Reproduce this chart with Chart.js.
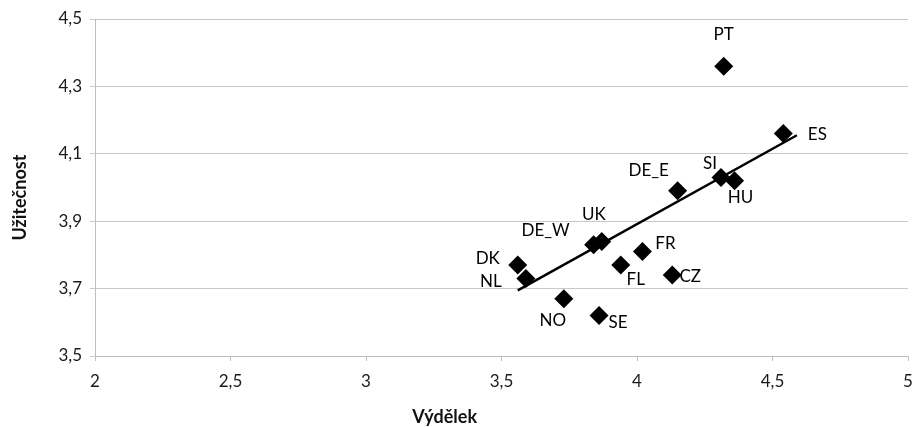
<!DOCTYPE html>
<html>
<head>
<meta charset="utf-8">
<script src="https://cdn.jsdelivr.net/npm/chart.js@4/dist/chart.umd.min.js"></script>
<style>
html,body{margin:0;padding:0;background:#fff;}
#wrap{width:913px;height:427px;}
</style>
</head>
<body>
<div id="wrap"><canvas id="c" width="913" height="427"></canvas></div>
<script>
// Data
const countries = ['PT','ES','SI','HU','DE_E','UK','DE_W','DK','NL','FR','FL','CZ','NO','SE'];
const earnings  = [4.32, 4.54, 4.31, 4.36, 4.15, 3.87, 3.84, 3.56, 3.59, 4.02, 3.94, 4.13, 3.73, 3.86];
const utility   = [4.36, 4.16, 4.03, 4.02, 3.99, 3.84, 3.83, 3.77, 3.73, 3.81, 3.77, 3.74, 3.67, 3.62];
const trendX    = [3.56, 4.59];
const trendY    = [3.695, 4.155];
const xTicks    = [2, 2.5, 3, 3.5, 4, 4.5, 5];
const yTicks    = [3.5, 3.7, 3.9, 4.1, 4.3, 4.5];
const xTitle = 'Výdělek';
const yTitle = 'Užitečnost';

// label placement (style) relative to each marker, in px
const labelOffsets = {
  PT:[0,-32], ES:[34,1], SI:[-11,-14], HU:[6,17], DE_E:[-29,-20], UK:[-8,-27],
  DE_W:[-48,-14], DK:[-30,-6], NL:[-35,3], FR:[23,-8], FL:[15,15], CZ:[18,1],
  NO:[-11,22], SE:[19,7]
};
// axis title placement (style)
const titleStyle = {
  font: 'bold 18px Lato, "Open Sans", sans-serif',
  xTitleFrac: 0.43,
  xTitleY: 417,
  yTitleX: 20,
  yTitleFrac: 0.53
};

const FONT = 'Lato, "Open Sans", sans-serif';
const fmt = v => String(v).replace('.', ',');

const labelPlugin = {
  id: 'pointLabels',
  afterDatasetsDraw(chart) {
    const meta = chart.getDatasetMeta(0);
    const ctx = chart.ctx;
    ctx.save();
    ctx.font = '17px ' + FONT;
    ctx.fillStyle = '#000';
    ctx.textAlign = 'center';
    ctx.textBaseline = 'middle';
    meta.data.forEach((el, i) => {
      const name = countries[i];
      const off = labelOffsets[name] || [0, -20];
      ctx.fillText(name, el.x + off[0], el.y + off[1]);
    });
    ctx.restore();
  },
  afterDraw(chart) {
    const ctx = chart.ctx;
    const a = chart.chartArea;
    ctx.save();
    ctx.font = titleStyle.font;
    ctx.fillStyle = '#111';
    ctx.textAlign = 'center';
    ctx.textBaseline = 'middle';
    ctx.fillText(xTitle, a.left + (a.right - a.left) * titleStyle.xTitleFrac, titleStyle.xTitleY);
    ctx.translate(titleStyle.yTitleX, a.top + (a.bottom - a.top) * titleStyle.yTitleFrac);
    ctx.rotate(-Math.PI / 2);
    ctx.fillText(yTitle, 0, 0);
    ctx.restore();
  }
};

new Chart(document.getElementById('c'), {
  type: 'scatter',
  data: {
    datasets: [
      {
        label: 'data',
        data: earnings.map((x, i) => ({x: x, y: utility[i]})),
        pointStyle: 'rectRot',
        pointRadius: 9.5,
        pointHoverRadius: 9.5,
        backgroundColor: '#000',
        borderColor: '#000',
        borderWidth: 0,
        order: 2
      },
      {
        label: 'trend',
        type: 'line',
        data: trendX.map((x, i) => ({x: x, y: trendY[i]})),
        showLine: true,
        borderColor: '#000',
        borderWidth: 2.5,
        pointRadius: 0,
        fill: false,
        order: 1
      }
    ]
  },
  options: {
    responsive: false,
    animation: false,
    events: [],
    layout: { autoPadding: false, padding: { top: 19, right: 5, left: 0, bottom: 0 } },
    plugins: {
      legend: { display: false },
      tooltip: { enabled: false }
    },
    scales: {
      x: {
        type: 'linear',
        min: 2, max: 5,
        afterBuildTicks: s => { s.ticks = xTicks.map(v => ({value: v})); },
        afterFit: s => { s.height = 71; s.paddingRight = 0; s.paddingLeft = 0; },
        ticks: {
          callback: v => fmt(v),
          color: '#1a1a1a',
          font: { family: FONT, size: 17 },
          padding: 10,
          maxRotation: 0,
          autoSkip: false
        },
        grid: { drawOnChartArea: false, drawTicks: true, tickLength: 5, color: '#bfbfbf' },
        border: { display: true, color: '#bfbfbf', width: 1 },
        title: { display: false }
      },
      y: {
        type: 'linear',
        min: 3.5, max: 4.5,
        afterBuildTicks: s => { s.ticks = yTicks.map(v => ({value: v})); },
        afterFit: s => { s.width = 95; s.paddingTop = 0; s.paddingBottom = 0; },
        ticks: {
          callback: v => fmt(v),
          color: '#1a1a1a',
          font: { family: FONT, size: 17 },
          padding: 8,
          autoSkip: false
        },
        grid: { drawOnChartArea: true, drawTicks: true, tickLength: 5, color: '#c8c8c8' },
        border: { display: true, color: '#bfbfbf', width: 1 },
        title: { display: false }
      }
    }
  },
  plugins: [labelPlugin]
});
</script>
</body>
</html>
